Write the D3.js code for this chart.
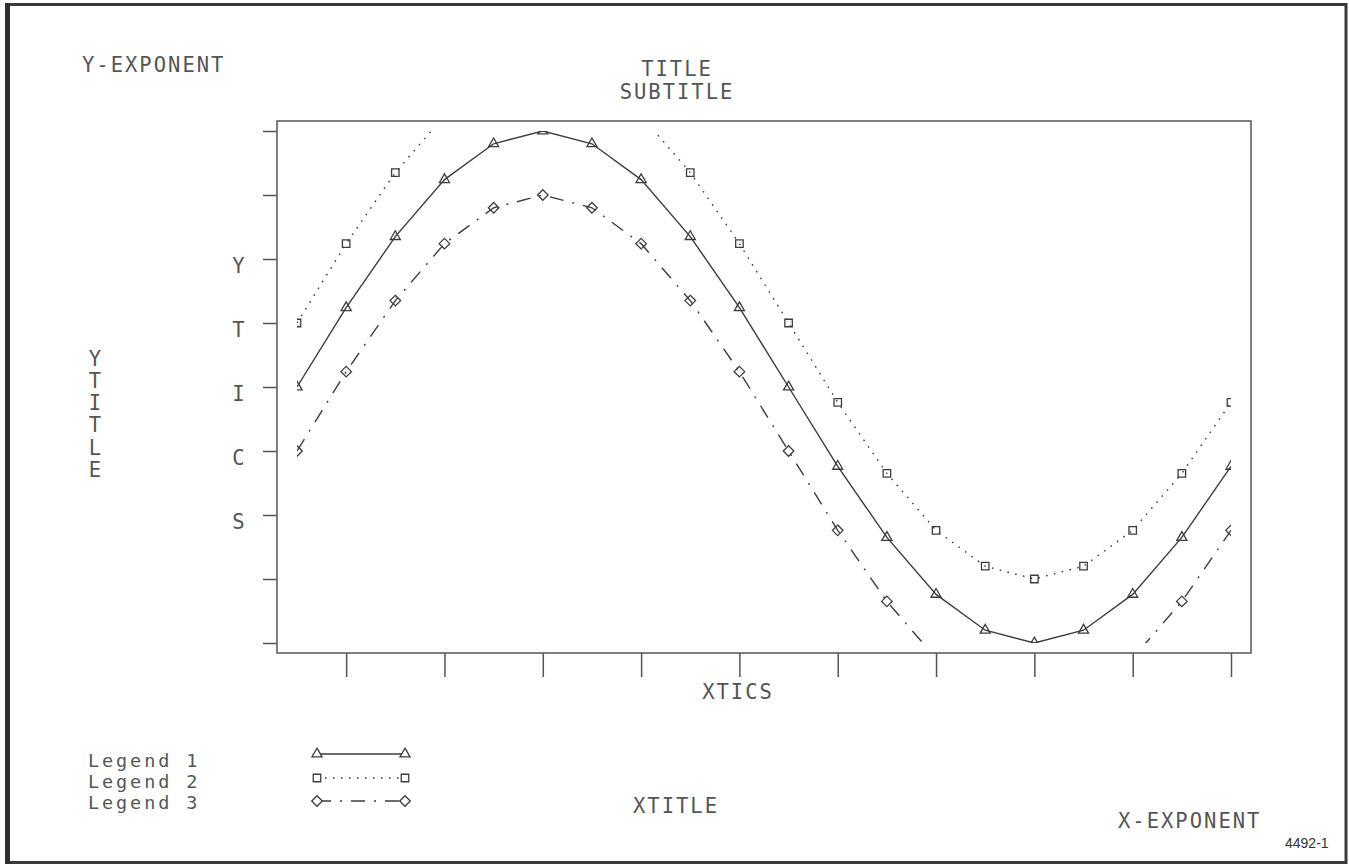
<!DOCTYPE html>
<html>
<head>
<meta charset="utf-8">
<script src="https://cdn.jsdelivr.net/npm/d3@7/dist/d3.min.js"></script>
<style>
  html, body { margin: 0; padding: 0; background: #fff; }
  svg { display: block; }
  .mono { font-family: "DejaVu Sans Mono", monospace; font-size: 20.5px; fill: #555; letter-spacing: 2px; }
  .legend { font-family: "DejaVu Sans Mono", monospace; font-size: 18.5px; fill: #555; letter-spacing: 2.9px; }
</style>
</head>
<body>
<svg id="chart" width="1349" height="865"></svg>
<script>
// Sample points along the x axis
const xValues = [1, 2, 3, 4, 5, 6, 7, 8, 9, 10, 11, 12, 13, 14, 15, 16, 17, 18, 19, 20];

// Three phase-aligned sine curves, offset vertically
const series1 = [0.00, 1.24, 2.35, 3.24, 3.80, 4.00, 3.80, 3.24, 2.35, 1.24,
                 0.00, -1.24, -2.35, -3.24, -3.80, -4.00, -3.80, -3.24, -2.35, -1.24];
const series2 = [1.00, 2.24, 3.35, 4.24, 4.80, 5.00, 4.80, 4.24, 3.35, 2.24,
                 1.00, -0.24, -1.35, -2.24, -2.80, -3.00, -2.80, -2.24, -1.35, -0.24];
const series3 = [-1.00, 0.24, 1.35, 2.24, 2.80, 3.00, 2.80, 2.24, 1.35, 0.24,
                 -1.00, -2.24, -3.35, -4.24, -4.80, -5.00, -4.80, -4.24, -3.35, -2.24];

const seriesNames = ["Legend 1", "Legend 2", "Legend 3"];

// Tick values and their labels
const xTickValues = [2, 4, 6, 8, 10, 12, 14, 16, 18, 20];
const yTickValues = [-4, -3, -2, -1, 0, 1, 2, 3, 4];
const yTickLabels = ["", "", "S", "C", "I", "T", "Y", "", ""];

const svg = d3.select("#chart");
const W = 1349, H = 865;

svg.append("rect").attr("width", W).attr("height", H).attr("fill", "#fff");

// Page frame
svg.append("rect")
  .attr("x", 7.5).attr("y", 4.5).attr("width", 1338.5).attr("height", 858)
  .attr("fill", "none").attr("stroke", "#3a3a3a").attr("stroke-width", 3);
svg.append("line")
  .attr("x1", 7.5).attr("x2", 7.5).attr("y1", 3).attr("y2", 864)
  .attr("stroke", "#2e2e2e").attr("stroke-width", 5);

// Data window and the surrounding box
const win = { left: 297, right: 1231, top: 131, bottom: 643 };
const box = { left: 277, right: 1251, top: 121, bottom: 653 };

const x = d3.scaleLinear().domain([1, 20]).range([win.left, win.right]);
const y = d3.scaleLinear().domain([-4, 4]).range([win.bottom, win.top]);

svg.append("defs").append("clipPath").attr("id", "win")
  .append("rect")
  .attr("x", win.left).attr("y", win.top)
  .attr("width", win.right - win.left).attr("height", win.bottom - win.top);

const ink = "#3c3c3c";

svg.append("rect")
  .attr("x", box.left).attr("y", box.top)
  .attr("width", box.right - box.left).attr("height", box.bottom - box.top)
  .attr("fill", "none").attr("stroke", "#555").attr("stroke-width", 1.5);

// Y axis: ticks outside the left edge of the box
const yAxis = d3.axisLeft(y)
  .tickValues(yTickValues)
  .tickSize(14)
  .tickPadding(19)
  .tickFormat((d, i) => yTickLabels[i]);
const gy = svg.append("g").attr("transform", `translate(${box.left},0)`).call(yAxis);
gy.select(".domain").remove();
gy.selectAll(".tick line").attr("stroke", "#555").attr("stroke-width", 1.5);
gy.selectAll(".tick text")
  .attr("class", "mono").attr("dy", "0.64em")
  .style("letter-spacing", "0px").attr("text-anchor", "middle").attr("x", -38.5)
  .attr("font-family", null).attr("font-size", null).attr("fill", null);

// X axis: unlabeled ticks below the box
const xAxis = d3.axisBottom(x).tickValues(xTickValues).tickSize(24).tickFormat("");
const gx = svg.append("g").attr("transform", `translate(0,${box.bottom})`).call(xAxis);
gx.select(".domain").remove();
gx.selectAll(".tick line").attr("stroke", "#555").attr("stroke-width", 1.5);

// Square-proportioned diamond (a square turned 45 degrees)
const symbolRhomb = {
  draw(context, size) {
    const r = Math.sqrt(size / 2);
    context.moveTo(0, -r);
    context.lineTo(r, 0);
    context.lineTo(0, r);
    context.lineTo(-r, 0);
    context.closePath();
  }
};

// Series styles
const styles = [
  { data: series1, dash: null, symbol: d3.symbolTriangle, size: 44 },
  { data: series2, dash: "1.6,6.4", symbol: d3.symbolSquare, size: 56 },
  { data: series3, dash: "14,9,2,9", symbol: symbolRhomb, size: 56 }
];

const line = d3.line().x((d, i) => x(xValues[i])).y(d => y(d));
const plot = svg.append("g").attr("clip-path", "url(#win)");

styles.forEach(s => {
  plot.append("path")
    .attr("d", line(s.data))
    .attr("fill", "none").attr("stroke", ink).attr("stroke-width", 1.4)
    .attr("stroke-dasharray", s.dash);
  plot.selectAll(null).data(s.data).enter().append("path")
    .attr("transform", (d, i) => `translate(${x(xValues[i])},${y(d)})`)
    .attr("d", d3.symbol().type(s.symbol).size(s.size))
    .attr("fill", "none").attr("stroke", ink).attr("stroke-width", 1.3);
});

// Text annotations
function label(txt, px, py, anchor) {
  return svg.append("text").attr("class", "mono")
    .attr("x", px).attr("y", py).attr("text-anchor", anchor || "start").text(txt);
}
label("Y-EXPONENT", 82, 72);
label("TITLE", 677, 76, "middle");
label("SUBTITLE", 677, 99, "middle");
label("XTICS", 738, 699, "middle");
label("XTITLE", 676, 813, "middle");
label("X-EXPONENT", 1118, 828);

// Vertical axis title, one letter per row
const yTitle = "YTITLE".split("");
svg.selectAll(null).data(yTitle).enter().append("text")
  .attr("class", "mono").style("letter-spacing", "0px")
  .attr("x", 95).attr("y", (d, i) => 365.5 + i * 22.3)
  .attr("text-anchor", "middle").text(d => d);

// Legend
const legendY = [754, 778, 801];
const legendBase = [767, 788, 809];
styles.forEach((s, k) => {
  svg.append("text").attr("class", "legend")
    .attr("x", 88).attr("y", legendBase[k]).text(seriesNames[k]);
  svg.append("line")
    .attr("x1", 317).attr("x2", 405).attr("y1", legendY[k]).attr("y2", legendY[k])
    .attr("stroke", ink).attr("stroke-width", 1.4).attr("stroke-dasharray", s.dash);
  [317, 405].forEach(px => {
    svg.append("path")
      .attr("transform", `translate(${px},${legendY[k]})`)
      .attr("d", d3.symbol().type(s.symbol).size(s.size))
      .attr("fill", "#fff").attr("stroke", ink).attr("stroke-width", 1.3);
  });
});

// Figure number
svg.append("text")
  .attr("x", 1285).attr("y", 848)
  .attr("font-family", "Liberation Sans, Arial, sans-serif").attr("font-size", 14)
  .attr("fill", "#333").text("4492-1");
</script>
</body>
</html>
